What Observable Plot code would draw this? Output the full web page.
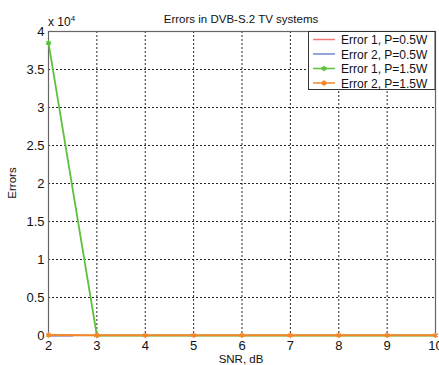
<!DOCTYPE html>
<html>
<head>
<meta charset="utf-8">
<script src="https://cdn.jsdelivr.net/npm/d3@7"></script>
<script src="https://cdn.jsdelivr.net/npm/@observablehq/plot@0.6"></script>
<style>
  html, body { margin: 0; padding: 0; background: #fff; }
  #chart { position: relative; width: 439px; height: 365px; }
</style>
</head>
<body>
<div id="chart"></div>
<script>
// Data
const snr = [2, 3, 4, 5, 6, 7, 8, 9, 10];
const snrLow = [2, 2.5];
const err1P05 = [0, 0];
const err2P05 = [0, 0];
const err1P15 = [38500, 0, 0, 0, 0, 0, 0, 0, 0];
const err2P15 = [60, 40, 40, 40, 40, 40, 40, 40, 40];
const yTicks = [0, 5000, 10000, 15000, 20000, 25000, 30000, 35000, 40000];
const xTicks = [2, 3, 4, 5, 6, 7, 8, 9, 10];
const seriesNames = ["Error 1, P=0.5W", "Error 2, P=0.5W", "Error 1, P=1.5W", "Error 2, P=1.5W"];
const colors = ["#f07a7a", "#7488cc", "#5cc23c", "#f5862a"];

const rows = (xs, ys) => xs.map((x, i) => ({x, y: ys[i]}));
const s1 = rows(snrLow, err1P05);
const s2 = rows(snrLow, err2P05);
const s3 = rows(snr, err1P15);
const s4 = rows(snr, err2P15);

const font = "'Liberation Sans', Arial, sans-serif";

const plot = Plot.plot({
  width: 439,
  height: 365,
  marginLeft: 48,
  marginRight: 4,
  marginTop: 31,
  marginBottom: 30,
  style: {fontFamily: font, fontSize: "13px", color: "#111", background: "#fff"},
  x: {domain: [2, 10], ticks: xTicks, tickSize: 0, tickPadding: 5, label: null},
  y: {domain: [0, 40000], ticks: yTicks, tickSize: 0, tickPadding: 4, label: null, tickFormat: d => d / 10000},
  marks: [
    Plot.gridX(xTicks, {stroke: "#000", strokeOpacity: 0.85, strokeDasharray: "2,2"}),
    Plot.gridY(yTicks, {stroke: "#000", strokeOpacity: 0.85, strokeDasharray: "2,2"}),
    Plot.frame({stroke: "#666", strokeWidth: 1.2}),
    Plot.line(s1, {x: "x", y: "y", stroke: colors[0], strokeWidth: 1.5}),
    Plot.line(s2, {x: "x", y: "y", stroke: colors[1], strokeWidth: 1.8}),
    Plot.line(s3, {x: "x", y: "y", stroke: colors[2], strokeWidth: 1.8}),
    Plot.dot(s3.slice(0, 2), {x: "x", y: "y", stroke: colors[2], symbol: "asterisk", r: 2.5, strokeWidth: 1.5}),
    Plot.line(s4, {x: "x", y: "y", stroke: colors[3], strokeWidth: 2}),
    Plot.dot(s4, {x: "x", y: "y", stroke: colors[3], symbol: "asterisk", r: 2.5, strokeWidth: 1.5})
  ]
});
document.getElementById("chart").appendChild(plot);

const svg = d3.select(plot);
const txt = (g, size) => g.append("text").attr("font-family", font).attr("font-size", size).attr("fill", "#111");
// Title
txt(svg, 11.5).attr("x", 241).attr("y", 23).attr("text-anchor", "middle").text("Errors in DVB-S.2 TV systems");
// Exponent
const ex = txt(svg, 12).attr("x", 48).attr("y", 26).attr("text-anchor", "start");
ex.append("tspan").text("x 10");
ex.append("tspan").attr("dy", -5).attr("font-size", 8).text("4");
// Y label
txt(svg, 11.5).attr("transform", "translate(16,183) rotate(-90)").attr("text-anchor", "middle").text("Errors");
// X label
txt(svg, 11.5).attr("x", 241).attr("y", 363).attr("text-anchor", "middle").text("SNR, dB");

// Legend
const lg = svg.append("g");
lg.append("rect").attr("x", 308.5).attr("y", 31.5).attr("width", 126.5).attr("height", 58)
  .attr("fill", "#fff").attr("stroke", "#333").attr("stroke-width", 1);
seriesNames.forEach((name, i) => {
  const yy = 39.5 + i * 14.5;
  lg.append("line").attr("x1", 313).attr("x2", 335).attr("y1", yy).attr("y2", yy)
    .attr("stroke", colors[i]).attr("stroke-width", 1.5);
  if (i >= 2) {
    lg.append("path").attr("d", d3.symbol(d3.symbolAsterisk, 20)())
      .attr("transform", `translate(324,${yy})`).attr("stroke", colors[i]).attr("stroke-width", 1.5).attr("fill", "none");
  }
  txt(lg, 12).attr("x", 341).attr("y", yy + 4.5).attr("text-anchor", "start").text(name);
});
</script>
</body>
</html>
